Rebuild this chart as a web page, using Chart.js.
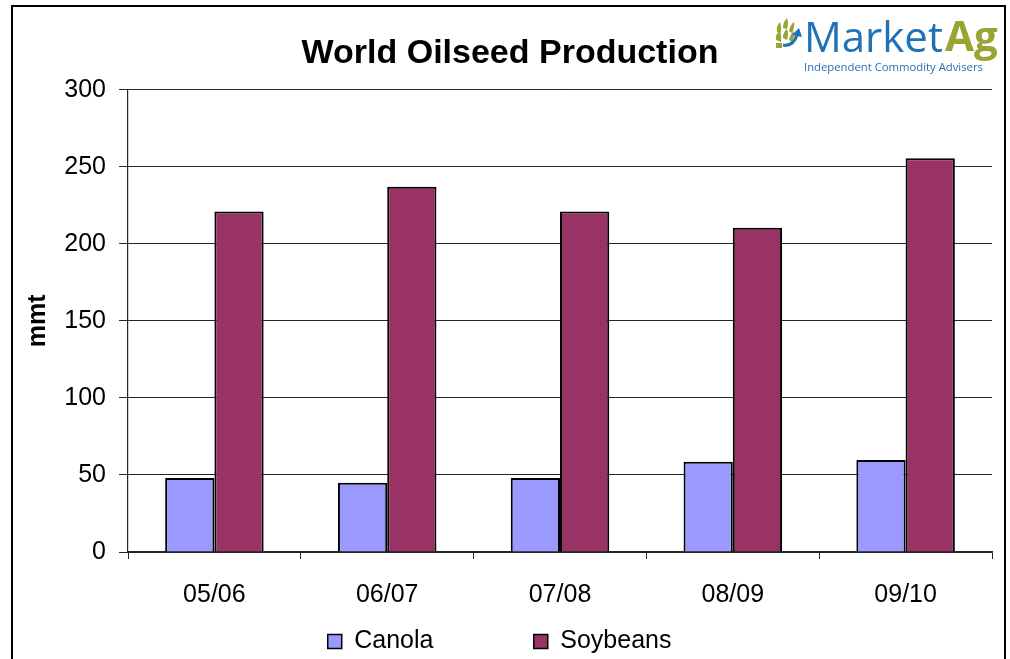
<!DOCTYPE html>
<html>
<head>
<meta charset="utf-8">
<script src="https://cdn.jsdelivr.net/npm/chart.js@4/dist/chart.umd.min.js"></script>
<style>
  html, body { margin: 0; padding: 0; background: #fff; overflow: hidden; }
  #wrap { position: relative; width: 1010px; height: 659px; overflow: hidden; }
  #chart { position: absolute; left: 0; top: 0; }
  #frame { position: absolute; left: 11px; top: 5px; width: 995px; height: 700px;
           border: 2px solid #000; box-sizing: border-box; pointer-events: none; }
  #logo { position: absolute; left: 770px; top: 12px; width: 236px; height: 66px; }
  #logo .market { position: absolute; left: 34px; top: -5px; font-family: "Open Sans", sans-serif;
                  font-size: 42px; color: #1f71b8; letter-spacing: 0px; }
  #logo .ag { position: absolute; left: 175px; top: -6px; font-family: "Open Sans", sans-serif;
              font-weight: 700; font-size: 42px; color: #98a533; }
  #logo .sub { position: absolute; left: 34px; top: 47px; font-family: "Open Sans", sans-serif;
               font-size: 11.3px; color: #2a6db3; white-space: nowrap; }
  #logo svg { position: absolute; left: 4px; top: 6px; }
</style>
</head>
<body>
<div id="wrap">
  <canvas id="chart" width="1010" height="664"></canvas>
  <div id="logo">
    <svg width="28" height="31" viewBox="0 0 28 31">
      <path d="M3 14 Q2 8 6 4 Q8 9 7 15 Z" fill="#98a533"/>
      <path d="M9 10 Q9 4 13 0 Q15 5 13 11 Z" fill="#98a533"/>
      <path d="M15 13 Q16 7 20 4 Q21 9 18 15 Z" fill="#98a533"/>
      <path d="M2 22 Q1 16 6 13 Q8 18 7 24 Z" fill="#98a533"/>
      <path d="M9 20 Q9 14 13 11 Q15 16 13 22 Z" fill="#98a533"/>
      <path d="M15 22 Q16 16 20 13 Q21 18 18 24 Z" fill="#98a533"/>
      <path d="M2 25 L8 25 L8 30 L2 30 Z" fill="#98a533"/>
      <path d="M9 27 Q19 29 23 17" stroke="#1f71b8" stroke-width="3.2" fill="none"/>
      <path d="M18 17 L25 10 L28 19 Z" fill="#1f71b8"/>
    </svg>
    <span class="market">Market</span>
    <span class="ag">Ag</span>
    <span class="sub">Independent Commodity Advisers</span>
  </div>
  <div id="frame"></div>
</div>
<script>
const seasons = ["05/06", "06/07", "07/08", "08/09", "09/10"];
const canola = [48, 45, 48, 58.5, 59.7];
const soybeans = [221, 237, 221, 210.5, 255.5];
const yTicks = [0, 50, 100, 150, 200, 250, 300];

const gridColor = "#262626";
const ctx = document.getElementById("chart").getContext("2d");

// pad legend text so the two entries sit as far apart as in the original
const legendText = {
  "Canola": "Canola" + "\u00a0".repeat(13),
  "Soybeans": "Soybeans" + "\u00a0".repeat(3)
};

new Chart(ctx, {
  type: "bar",
  data: {
    labels: seasons,
    datasets: [
      {
        label: "Canola",
        data: canola,
        backgroundColor: "#9999ff",
        borderColor: "#000",
        borderWidth: 2,
        categoryPercentage: 0.57,
        barPercentage: 1.0
      },
      {
        label: "Soybeans",
        data: soybeans,
        backgroundColor: "#993366",
        borderColor: "#000",
        borderWidth: 2,
        categoryPercentage: 0.57,
        barPercentage: 1.0
      }
    ]
  },
  options: {
    responsive: false,
    animation: false,
    devicePixelRatio: 1,
    layout: { padding: { left: 28, right: 18, top: 0, bottom: 0 } },
    plugins: {
      title: {
        display: true,
        text: "World Oilseed Production",
        color: "#000",
        font: { family: "Arial, 'Liberation Sans'", size: 34, weight: "bold" },
        padding: { top: 33, bottom: 16 }
      },
      legend: {
        position: "bottom",
        labels: {
          color: "#000",
          boxWidth: 14,
          boxHeight: 14,
          padding: 10,
          font: { family: "Arial, 'Liberation Sans'", size: 25 },
          generateLabels(chart) {
            return chart.data.datasets.map((ds, i) => ({
              text: legendText[ds.label] || ds.label,
              fillStyle: ds.backgroundColor,
              strokeStyle: "#000",
              lineWidth: 1.5,
              hidden: false,
              datasetIndex: i
            }));
          }
        }
      },
      tooltip: { enabled: false }
    },
    scales: {
      x: {
        afterFit(scale) { scale.height = 67; },
        grid: {
          offset: true,
          drawOnChartArea: false,
          drawTicks: true,
          tickLength: 7,
          color: gridColor
        },
        border: { color: gridColor, width: 1.2 },
        ticks: {
          color: "#000",
          padding: 21,
          font: { family: "Arial, 'Liberation Sans'", size: 25 }
        }
      },
      y: {
        min: 0,
        max: 300,
        afterFit(scale) { scale.width = 100; },
        afterBuildTicks(scale) { scale.ticks = yTicks.map(v => ({ value: v })); },
        grid: { color: gridColor, lineWidth: 1, tickLength: 9 },
        border: { color: gridColor, width: 1.2 },
        ticks: {
          color: "#000",
          padding: 13,
          font: { family: "Arial, 'Liberation Sans'", size: 25 }
        },
        title: {
          display: true,
          text: "mmt",
          color: "#000",
          padding: { top: -5, bottom: 0 },
          font: { family: "Arial, 'Liberation Sans'", size: 25, weight: "bold" }
        }
      }
    }
  }
});
</script>
</body>
</html>
